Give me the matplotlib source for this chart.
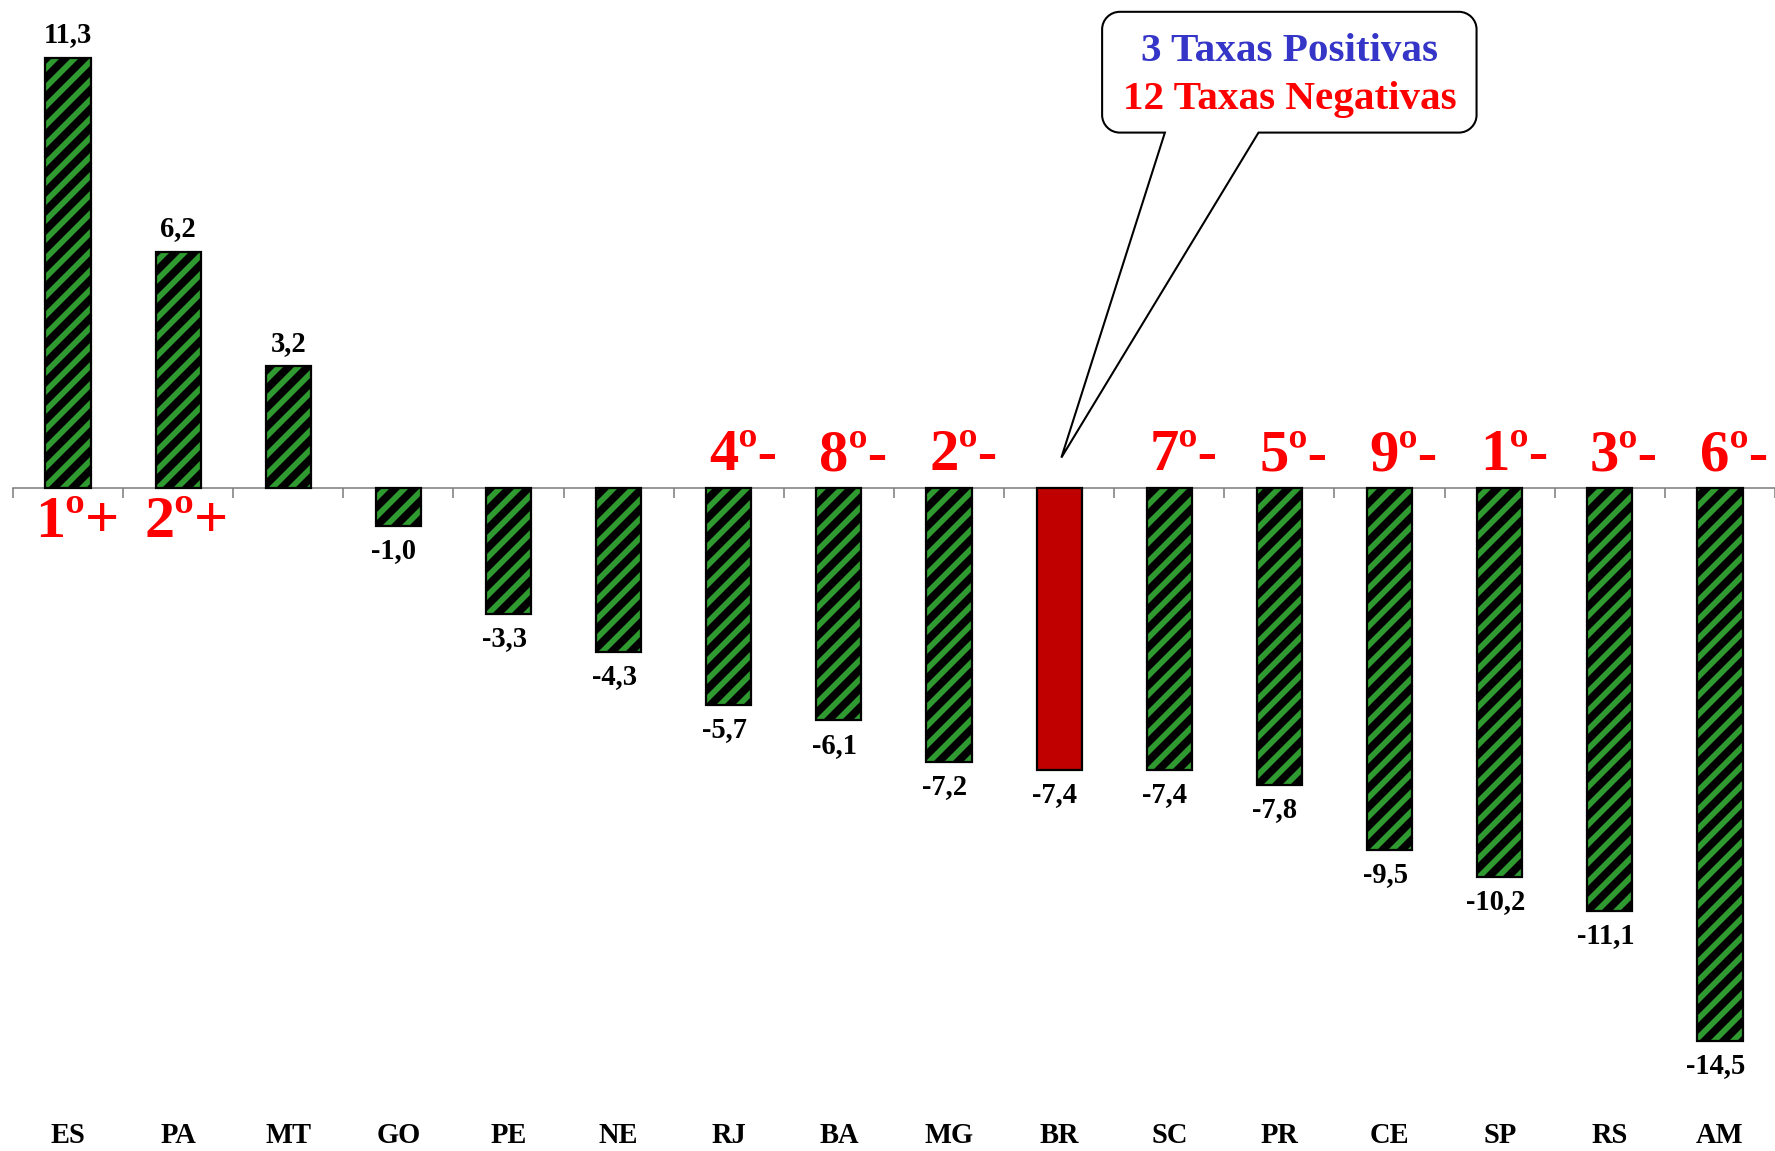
import numpy as np
import matplotlib
matplotlib.use('Agg')
import matplotlib.pyplot as plt
from matplotlib.path import Path
from matplotlib.patches import PathPatch

# data ------------------------------------------------------------------------
states = ['ES', 'PA', 'MT', 'GO', 'PE', 'NE', 'RJ', 'BA', 'MG', 'BR', 'SC', 'PR', 'CE', 'SP', 'RS', 'AM']
values = [11.3, 6.2, 3.2, -1.0, -3.3, -4.3, -5.7, -6.1, -7.2, -7.4, -7.4, -7.8, -9.5, -10.2, -11.1, -14.5]
ranks = ['1º+', '2º+', '', '', '', '', '4º-', '8º-', '2º-', '', '7º-', '5º-', '9º-', '1º-', '3º-', '6º-']
highlight = 'BR'
callout_lines = ['3 Taxas Positivas', '12 Taxas Negativas']
callout_colors = ['#3535c8', '#ff0000']

# style -----------------------------------------------------------------------
DPI = 114
green = '#2f9a2f'
plt.rcParams['hatch.linewidth'] = 3.6
plt.rcParams['font.family'] = ['Liberation Serif', 'DejaVu Serif']
plt.rcParams['font.weight'] = 'bold'

fig = plt.figure(figsize=(1775 / DPI, 1151 / DPI), dpi=DPI)
ax = fig.add_axes([0.0073, 0.0, 0.9927, 1.0])
ax.set_xlim(-0.5, len(states) - 0.5)
ax.set_ylim(-17.4, 12.81)

x = np.arange(len(states))
is_hl = np.array([s == highlight for s in states])
vals = np.array(values)

# striped bars: black face, green hatch, then black outline on top
ax.bar(x[~is_hl], vals[~is_hl], width=0.41, color='black', edgecolor=green,
       hatch='//', linewidth=0, zorder=3)
ax.bar(x, vals, width=0.41, facecolor=np.where(is_hl, '#c00000', 'none'),
       edgecolor='black', linewidth=1.4, zorder=4)

# zero axis with boundary ticks
for side in ['top', 'right', 'left']:
    ax.spines[side].set_visible(False)
ax.spines['bottom'].set_position(('data', 0))
ax.spines['bottom'].set_color('#7f7f7f')
ax.spines['bottom'].set_linewidth(1.0)
ax.spines['bottom'].set_zorder(2)
ax.set_xticks(np.arange(-0.5, len(states), 1.0))
ax.set_xticklabels([])
ax.tick_params(axis='x', direction='out', length=6, width=1.0, color='#7f7f7f')
ax.set_yticks([])

# value labels
for xi, v in zip(x, values):
    txt = '{:.1f}'.format(v).replace('.', ',')
    if v >= 0:
        ax.annotate(txt, (xi, v), xytext=(0, 6), textcoords='offset points',
                    ha='center', va='bottom', fontsize=18, zorder=5)
    else:
        ax.annotate(txt, (xi - 0.04, v), xytext=(0, -7), textcoords='offset points',
                    ha='center', va='top', fontsize=18, zorder=5)

# category labels at the bottom
for xi, s in zip(x, states):
    ax.text(xi, -16.99, s, ha='center', va='center', fontsize=18)

# rank labels
for xi, v, r in zip(x, values, ranks):
    if not r:
        continue
    if r.endswith('+'):
        ax.annotate(r, (xi + 0.08, 0), xytext=(0, -5), textcoords='offset points',
                    ha='center', va='top', fontsize=38, color='#ff0000', zorder=5)
    else:
        ax.annotate(r, (xi + 0.13, 0), xytext=(0, 3), textcoords='offset points',
                    ha='center', va='bottom', fontsize=37, color='#ff0000', zorder=5)

# callout box with pointer --------------------------------------------------
bx0, bx1, by0, by1 = 9.39, 12.79, 9.33, 12.5
rx, ry = 0.16, 0.46
px0, px1 = 9.96, 10.81
tip = (x[is_hl][0] + 0.02, 0.8)
k = 0.55
verts = [(bx0 + rx, by1), (bx1 - rx, by1),
         (bx1 - rx * (1 - k), by1), (bx1, by1 - ry * (1 - k)), (bx1, by1 - ry),
         (bx1, by0 + ry),
         (bx1, by0 + ry * (1 - k)), (bx1 - rx * (1 - k), by0), (bx1 - rx, by0),
         (px1, by0), tip, (px0, by0),
         (bx0 + rx, by0),
         (bx0 + rx * (1 - k), by0), (bx0, by0 + ry * (1 - k)), (bx0, by0 + ry),
         (bx0, by1 - ry),
         (bx0, by1 - ry * (1 - k)), (bx0 + rx * (1 - k), by1), (bx0 + rx, by1),
         (bx0 + rx, by1)]
codes = ([Path.MOVETO, Path.LINETO] + [Path.CURVE4] * 3 + [Path.LINETO]
         + [Path.CURVE4] * 3 + [Path.LINETO] * 4 + [Path.CURVE4] * 3
         + [Path.LINETO] + [Path.CURVE4] * 3 + [Path.CLOSEPOLY])
ax.add_patch(PathPatch(Path(verts, codes), facecolor='white', edgecolor='black',
                       linewidth=1.3, zorder=6))
cx = (bx0 + bx1) / 2
ax.text(cx, 11.45, callout_lines[0], ha='center', va='center', fontsize=26,
        color=callout_colors[0], zorder=7)
ax.text(cx, 10.2, callout_lines[1], ha='center', va='center', fontsize=26,
        color=callout_colors[1], zorder=7)

fig.savefig('out.png', dpi=DPI)
